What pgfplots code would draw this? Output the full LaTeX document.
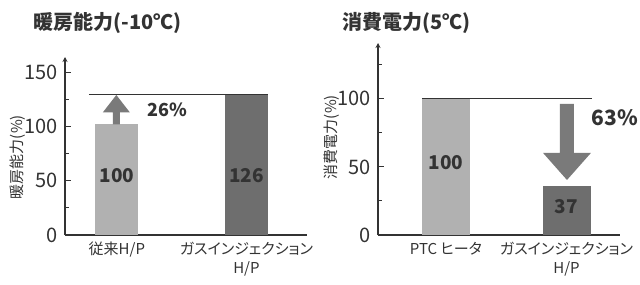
\documentclass[border=0pt]{standalone}
\usepackage{fontspec}
\setmainfont{Noto Sans CJK JP}[RawFeature=+palt]
\usepackage{pgfplots}
\pgfplotsset{compat=1.18}
\usetikzlibrary{arrows.meta}
\definecolor{lightbar}{HTML}{B1B1B1}
\definecolor{darkbar}{HTML}{6E6E6E}
\definecolor{arrowgray}{HTML}{7A7A7A}
\definecolor{txt}{HTML}{333333}
\pgfplotsset{
  mystyle/.style={
    scale only axis, width=121pt,
    axis x line=bottom, axis y line=left,
    x axis line style={-, draw=txt, line width=0.6pt},
    y axis line style={-{Stealth[length=2.5pt,width=2.5pt]}, draw=txt, line width=0.6pt},
    xtick={0,1}, major x tick style={draw=none},
    tick align=inside,
    y tick style={draw=txt, line width=0.5pt},
    major tick length=3pt, minor tick length=2pt,
    minor ytick={25,75,125},
    yticklabel style={font=\fontsize{10}{11}\selectfont, text=txt},
    xticklabel style={font=\fontsize{7.5}{9.5}\selectfont, text=txt, align=center},
    /pgf/number format/assume math mode=true,
    ylabel style={font=\fontsize{7.5}{9}\selectfont, text=txt, anchor=center, rotate=0},
    clip=false,
    ymin=0,
  }
}
\begin{document}
\begin{tikzpicture}
\useasboundingbox (0,0) rectangle (320pt,142pt);
\node[anchor=west, inner sep=0pt, font=\bfseries\fontsize{10}{11}\selectfont, text=txt] at (16.5pt,130.5pt) {暖房能力(-10℃)};
\node[anchor=west, inner sep=0pt, font=\bfseries\fontsize{10}{11}\selectfont, text=txt] at (171pt,130.5pt) {消費電力(5℃)};

% left panel
\begin{axis}[mystyle, at={(32.5pt,24.5pt)}, anchor=south west,
  height=89pt, ymax=164, xmin=-0.40, xmax=1.467,
  ytick={0,50,100,150},
  xticklabels={従来H/P,{ガスインジェクション\\H/P}},
  ylabel={暖房能力(\%)},
  ylabel style={at={(axis description cs:-0.194,0.438)}},
]
\addplot[ybar, bar shift=0pt, bar width=21.5pt, fill=lightbar, draw=none] coordinates {(0,102)};
\addplot[ybar, bar shift=0pt, bar width=21.5pt, fill=darkbar, draw=none] coordinates {(1,129)};
\addplot[draw=txt, line width=0.5pt] coordinates {(-0.216,129) (1.166,129)};
\addplot[fill=arrowgray, draw=none] coordinates {(-0.031,102) (0.023,102) (0.023,113) (0.100,113) (-0.004,129) (-0.108,113) (-0.031,113)} -- cycle;
\node[font=\bfseries\fontsize{9.5}{10}\selectfont, text=txt] at (axis cs:0,55) {100};
\node[font=\bfseries\fontsize{9.5}{10}\selectfont, text=txt] at (axis cs:1,55) {126};
\node[font=\bfseries\fontsize{9}{10}\selectfont, text=txt] at (axis cs:0.39,115) {26\%};
\end{axis}

% right panel
\begin{axis}[mystyle, at={(189pt,24.5pt)}, anchor=south west,
  height=96pt, ymax=141, xmin=-0.564, xmax=1.444,
  ytick={0,50,100},
  xticklabels={PTC ヒータ,{ガスインジェクション\\H/P}},
  ylabel={消費電力(\%)},
  ylabel style={at={(axis description cs:-0.19,0.51)}},
]
\addplot[ybar, bar shift=0pt, bar width=24pt, fill=lightbar, draw=none] coordinates {(0,100)};
\addplot[ybar, bar shift=0pt, bar width=24pt, fill=darkbar, draw=none] coordinates {(1,36)};
\addplot[draw=txt, line width=0.5pt] coordinates {(-0.2,100) (1.21,100)};
\addplot[fill=arrowgray, draw=none] coordinates {(0.946,96.3) (1.062,96.3) (1.062,60.3) (1.203,60.3) (1.004,40.4) (0.805,60.3) (0.946,60.3)} -- cycle;
\node[font=\bfseries\fontsize{9.5}{10}\selectfont, text=txt] at (axis cs:0,53) {100};
\node[font=\bfseries\fontsize{9.5}{10}\selectfont, text=txt] at (axis cs:1,20.6) {37};
\node[font=\bfseries\fontsize{10.5}{11}\selectfont, text=txt] at (axis cs:1.40,86) {63\%};
\end{axis}
\end{tikzpicture}
\end{document}
